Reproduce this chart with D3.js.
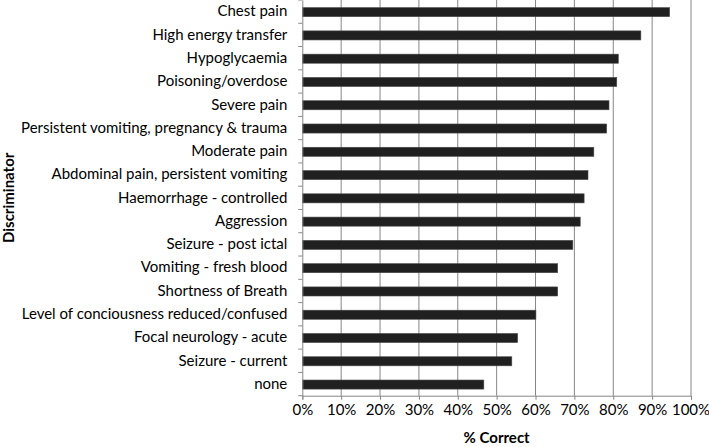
<!DOCTYPE html>
<html><head><meta charset="utf-8">
<script src="https://cdn.jsdelivr.net/npm/d3@7"></script>
<style>
body{margin:0;background:#fff;}
svg{display:block;font-family:Lato, "Open Sans", sans-serif;}
</style></head>
<body>
<script>
const categories = ["Chest pain","High energy transfer","Hypoglycaemia","Poisoning/overdose","Severe pain","Persistent vomiting, pregnancy & trauma","Moderate pain","Abdominal pain, persistent vomiting","Haemorrhage - controlled","Aggression","Seizure - post ictal","Vomiting - fresh blood","Shortness of Breath","Level of conciousness reduced/confused","Focal neurology - acute","Seizure - current","none"];
const values = [94.5,87.1,81.3,80.9,78.9,78.3,75.0,73.5,72.5,71.5,69.6,65.7,65.7,60.1,55.4,53.9,46.7];
const xTicks = [0,10,20,30,40,50,60,70,80,90,100];
const xTitle = "% Correct";
const yTitle = "Discriminator";

const W=709,H=447;
const m={left:302.3,right:18,top:0,bottom:51.3};
const svg=d3.select("body").append("svg").attr("width",W).attr("height",H);
const x=d3.scaleLinear().domain([0,100]).range([m.left,W-m.right]);
const y=d3.scaleBand().domain(categories).range([m.top,H-m.bottom]).paddingInner(0.61).paddingOuter(0.305);
const yb=d3.scaleBand().domain(categories).range([m.top,H-m.bottom]);

// gridlines
svg.append("g").selectAll("line").data(xTicks.slice(1)).join("line")
 .attr("x1",d=>x(d)).attr("x2",d=>x(d)).attr("y1",m.top).attr("y2",H-m.bottom)
 .attr("stroke","#868686").attr("stroke-width",1);

// bars
svg.append("g").selectAll("rect").data(values).join("rect")
 .attr("x",x(0)).attr("y",(d,i)=>y(categories[i])+0.5)
 .attr("width",d=>x(d)-x(0)).attr("height",y.bandwidth())
 .attr("fill","#202020").attr("stroke","#4a4a4a").attr("stroke-width",0.6);

// x axis
const xa=svg.append("g").attr("transform",`translate(0,${H-m.bottom})`)
 .call(d3.axisBottom(x).tickValues(xTicks).tickFormat(d=>d+"%").tickSize(4).tickPadding(5));
xa.select(".domain").attr("stroke","#868686");
xa.selectAll(".tick line").attr("stroke","#868686");
xa.selectAll("text").attr("font-size",15).attr("fill","#000").attr("font-family","Lato");
xa.selectAll(".tick:last-of-type text").attr("dx","-0.5");

// y axis
const yLeft=d3.axisLeft(yb).tickSize(0).tickPadding(15);
const ya=svg.append("g").attr("transform",`translate(${m.left},0)`).call(yLeft);
ya.select(".domain").attr("stroke","#868686");
ya.selectAll("text").attr("font-size",15).attr("fill","#000").attr("font-family","Lato");
// boundary ticks
svg.append("g").selectAll("line").data(d3.range(categories.length+1)).join("line")
 .attr("x1",m.left-4).attr("x2",m.left)
 .attr("y1",i=>m.top+i*yb.step()).attr("y2",i=>m.top+i*yb.step())
 .attr("stroke","#868686");

svg.append("text").attr("x",(x(0)+x(100))/2).attr("y",443)
 .attr("text-anchor","middle").attr("font-weight","bold").attr("font-size",15).text(xTitle);
svg.append("text").attr("transform",`translate(14,${(m.top+H-m.bottom)/2}) rotate(-90)`)
 .attr("text-anchor","middle").attr("font-weight","bold").attr("font-size",15).text(yTitle);
</script>
</body></html>
